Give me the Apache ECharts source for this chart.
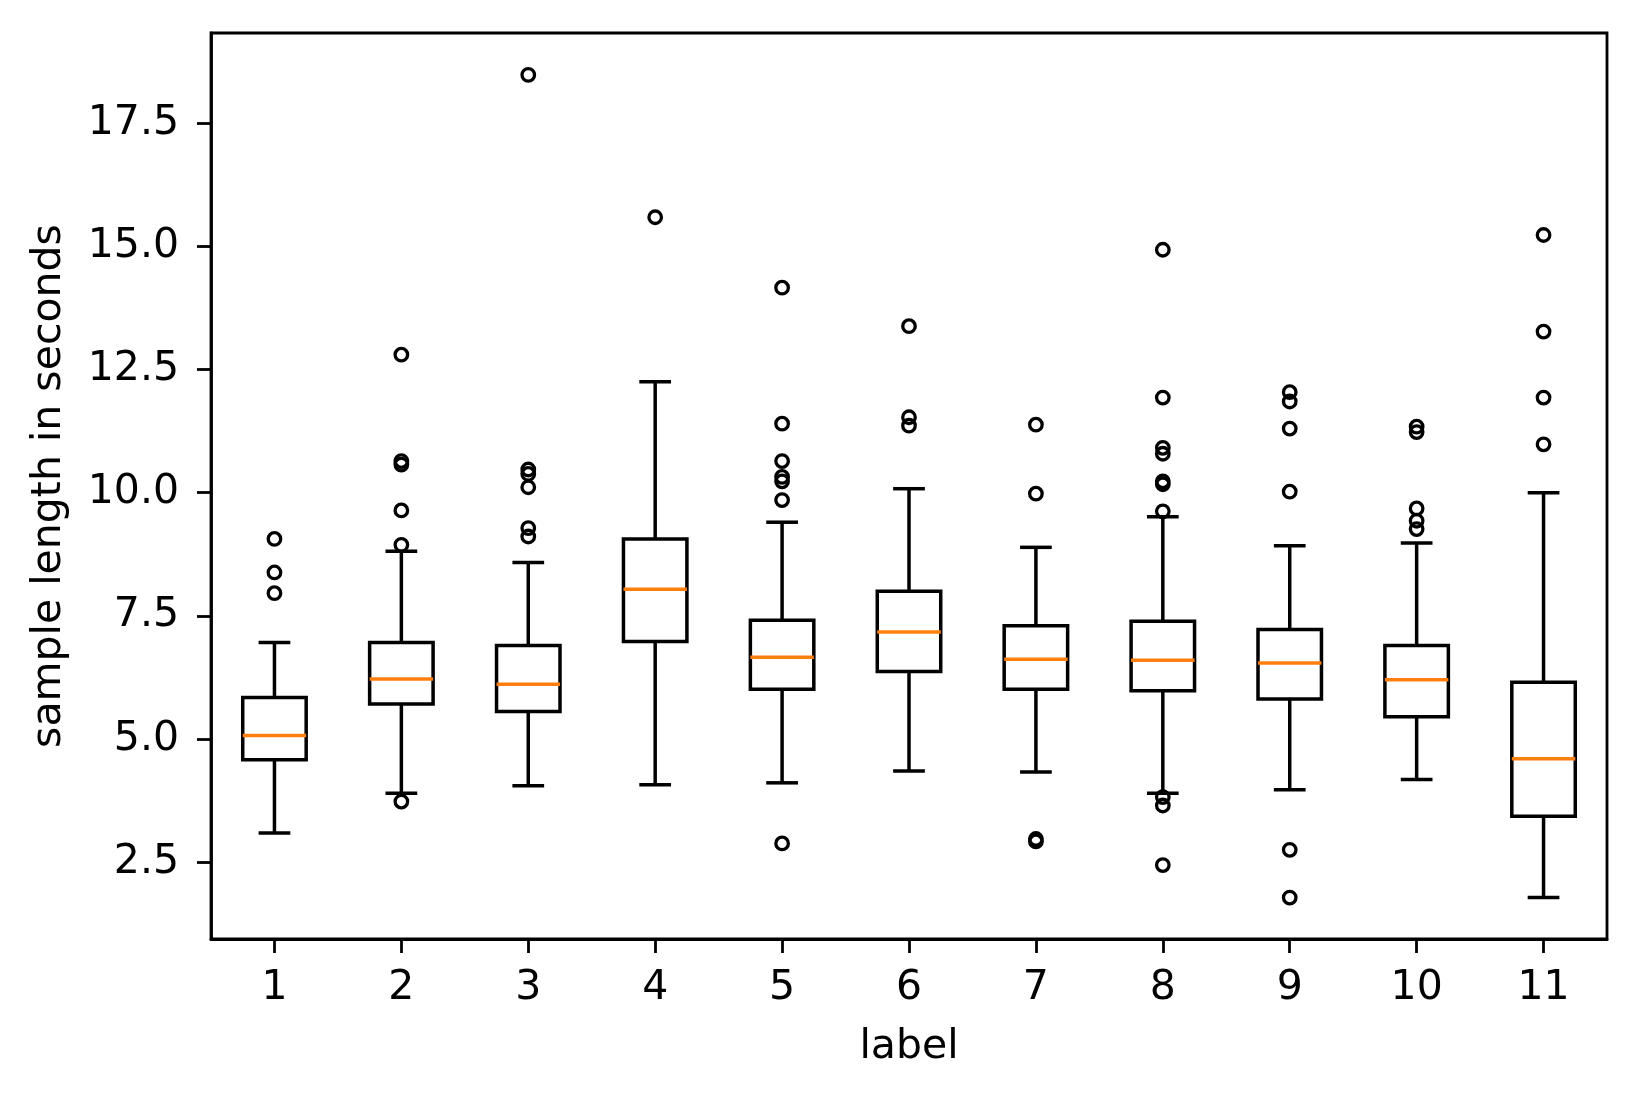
<!DOCTYPE html>
<html>
<head>
<meta charset="utf-8">
<script src="https://cdn.jsdelivr.net/npm/echarts@6/dist/echarts.min.js"></script>
<style>
  html, body { margin: 0; padding: 0; background: #fff; }
  #main { width: 1639px; height: 1099px; }
</style>
</head>
<body>
<div id="main"></div>
<script>
// labels on the x axis
var labels = ['1', '2', '3', '4', '5', '6', '7', '8', '9', '10', '11'];

// box statistics per label
var whiskerLow  = [3.09, 3.90, 4.05, 4.07, 4.11, 4.35, 4.33, 3.90, 3.97, 4.18, 1.78];
var q1          = [4.58, 5.71, 5.56, 6.98, 6.01, 6.37, 6.01, 5.98, 5.81, 5.45, 3.43];
var median      = [5.07, 6.22, 6.11, 8.04, 6.66, 7.17, 6.62, 6.60, 6.54, 6.20, 4.60];
var q3          = [5.84, 6.96, 6.90, 9.06, 7.41, 8.00, 7.30, 7.39, 7.22, 6.90, 6.15];
var whiskerHigh = [6.96, 8.81, 8.58, 12.25, 9.40, 10.08, 8.89, 9.51, 8.92, 8.98, 10.00];

// outliers per label
var fliers = [
  [9.06, 8.38, 7.96],
  [12.80, 10.64, 10.57, 9.64, 8.94, 3.73],
  [18.48, 10.47, 10.38, 10.11, 9.28, 9.11],
  [15.59],
  [14.16, 11.40, 10.64, 10.32, 10.23, 9.85, 2.88],
  [13.38, 11.53, 11.36],
  [11.38, 9.98, 2.97, 2.92],
  [14.93, 11.93, 10.91, 10.79, 10.23, 10.17, 9.62, 3.82, 3.65, 2.44],
  [12.04, 11.85, 11.30, 10.02, 2.75, 1.78],
  [11.34, 11.23, 9.68, 9.43, 9.26],
  [15.23, 13.27, 11.93, 10.98]
];

var yTicks = [2.5, 5.0, 7.5, 10.0, 12.5, 15.0, 17.5];

var boxData = labels.map(function (l, i) {
  return [i, whiskerLow[i], q1[i], median[i], q3[i], whiskerHigh[i]];
});
var flierData = [];
fliers.forEach(function (list, i) {
  list.forEach(function (v) { flierData.push([i, v]); });
});

var font = 'DejaVu Sans';
var lw = 3.5;

var myChart = echarts.init(document.getElementById('main'));

var option = {
  animation: false,
  backgroundColor: '#fff',
  grid: {
    left: 211, right: 32, top: 33, bottom: 160,
    show: true, borderColor: '#000', borderWidth: 2.8, backgroundColor: 'transparent'
  },
  xAxis: {
    type: 'category',
    data: labels,
    boundaryGap: true,
    name: 'label',
    nameLocation: 'middle',
    nameGap: 88,
    nameTextStyle: { fontFamily: font, fontSize: 41, color: '#000' },
    axisLine: { show: true, lineStyle: { color: '#000', width: 2.8 } },
    axisTick: { show: true, alignWithLabel: true, length: 14, lineStyle: { color: '#000', width: 2.8 } },
    axisLabel: { fontFamily: font, fontSize: 41, color: '#000', margin: 29 },
    splitLine: { show: false }
  },
  yAxis: {
    type: 'value',
    min: 0.94,
    max: 19.33,
    name: 'sample length in seconds',
    nameLocation: 'middle',
    nameGap: 141,
    nameTextStyle: { fontFamily: font, fontSize: 41, color: '#000' },
    axisLine: { show: true, lineStyle: { color: '#000', width: 2.8 } },
    axisTick: { show: true, length: 14, customValues: yTicks, lineStyle: { color: '#000', width: 2.8 } },
    axisLabel: {
      fontFamily: font, fontSize: 41, color: '#000', margin: 32,
      customValues: yTicks,
      formatter: function (v) { return v.toFixed(1); }
    },
    splitLine: { show: false }
  },
  series: [
    {
      type: 'custom',
      data: boxData,
      encode: { x: 0, y: [1, 2, 3, 4, 5] },
      renderItem: function (params, api) {
        var i = api.value(0);
        var lo = api.coord([i, api.value(1)]);
        var b1 = api.coord([i, api.value(2)]);
        var md = api.coord([i, api.value(3)]);
        var b3 = api.coord([i, api.value(4)]);
        var hi = api.coord([i, api.value(5)]);
        var half = api.size([1, 0])[0] * 0.25;
        var cap = half / 2;
        var x = md[0];
        var st = { stroke: '#000', lineWidth: lw, fill: null };
        return {
          type: 'group',
          children: [
            { type: 'line', shape: { x1: x, y1: lo[1], x2: x, y2: b1[1] }, style: st },
            { type: 'line', shape: { x1: x, y1: b3[1], x2: x, y2: hi[1] }, style: st },
            { type: 'line', shape: { x1: x - cap, y1: lo[1], x2: x + cap, y2: lo[1] }, style: st },
            { type: 'line', shape: { x1: x - cap, y1: hi[1], x2: x + cap, y2: hi[1] }, style: st },
            { type: 'rect', shape: { x: x - half, y: b3[1], width: half * 2, height: b1[1] - b3[1] },
              style: { stroke: '#000', lineWidth: lw, fill: 'rgba(0,0,0,0)' } },
            { type: 'line', shape: { x1: x - half, y1: md[1], x2: x + half, y2: md[1] },
              style: { stroke: '#ff7f0e', lineWidth: lw } }
          ]
        };
      },
      z: 3
    },
    {
      type: 'scatter',
      data: flierData,
      symbol: 'circle',
      symbolSize: 12.5,
      itemStyle: { color: 'rgba(0,0,0,0)', borderColor: '#000', borderWidth: 3.3, opacity: 1 },
      z: 4
    }
  ]
};
myChart.setOption(option);
</script>
</body>
</html>
